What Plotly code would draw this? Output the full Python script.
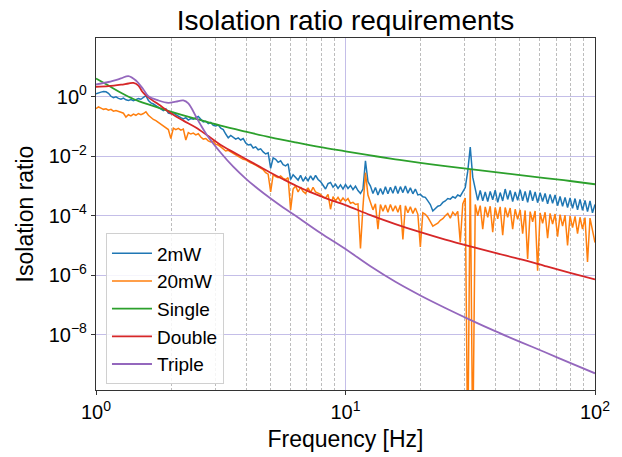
import numpy as np
import plotly.graph_objects as go

# ---- measured spectra: log10(isolation ratio) on a log-frequency grid (1..100 Hz, 0.01 decade steps)
freq_log_step = 0.01
blue_2mW_log = [
0.10,0.14,0.16,0.18,0.17,0.12,0.02,-0.03,0.00,-0.05,
-0.08,-0.04,-0.10,-0.12,-0.09,-0.13,-0.10,-0.06,-0.08,-0.02,
0.04,-0.12,-0.20,-0.24,-0.30,-0.36,-0.42,-0.46,-0.40,-0.55,
-0.57,-0.53,-0.60,-0.66,-0.70,-0.74,-0.70,-0.78,-0.73,-0.75,
-0.70,-0.66,-0.75,-0.84,-0.82,-0.90,-0.86,-0.96,-0.98,-0.95,
-1.05,-1.10,-1.25,-1.38,-1.30,-1.36,-1.42,-1.38,-1.45,-1.40,
-1.55,-1.62,-1.60,-1.72,-1.68,-1.78,-1.75,-1.85,-1.92,-1.88,
-2.40,-2.05,-2.10,-2.20,-2.15,-2.28,-2.32,-2.25,-2.78,-2.62,
-2.70,-2.80,-2.64,-2.84,-2.70,-2.82,-2.66,-2.80,-2.64,-2.78,
-2.85,-2.98,-3.10,-2.92,-2.88,-3.04,-2.94,-3.08,-2.96,-3.10,
-2.95,-3.08,-2.98,-3.12,-3.00,-3.15,-3.25,-3.10,-2.15,-2.85,
-3.00,-3.25,-3.05,-3.30,-3.08,-3.28,-3.02,-3.26,-3.04,-3.24,
-3.00,-3.25,-3.02,-3.22,-3.00,-3.24,-3.06,-3.26,-3.10,-3.30,
-3.28,-3.36,-3.38,-3.50,-3.62,-3.84,-3.75,-3.68,-3.65,-3.55,
-3.50,-3.42,-3.44,-3.36,-3.40,-3.30,-3.34,-3.20,-3.05,-2.50,
-1.69,-2.70,-3.12,-3.48,-3.15,-3.50,-3.20,-3.52,-3.18,-3.46,
-3.14,-3.55,-3.22,-3.50,-3.10,-3.45,-3.15,-3.52,-3.20,-3.48,
-3.12,-3.50,-3.18,-3.55,-3.15,-3.50,-3.20,-3.56,-3.22,-3.52,
-3.25,-3.60,-3.28,-3.58,-3.30,-3.66,-3.35,-3.68,-3.38,-3.72,
-3.40,-3.75,-3.42,-3.80,-3.45,-3.82,-3.48,-3.86,-3.50,-3.90,
-3.62]
orange_20mW_log = [
-0.40,-0.34,-0.38,-0.42,-0.40,-0.45,-0.42,-0.48,-0.46,-0.50,
-0.52,-0.55,-0.68,-0.60,-0.64,-0.58,-0.62,-0.56,-0.60,-0.56,
-0.50,-0.62,-0.70,-0.76,-0.80,-0.86,-0.92,-0.98,-1.02,-1.10,
-1.40,-1.05,-1.10,-1.06,-1.12,-1.08,-1.45,-1.20,-1.25,-1.22,
-1.28,-1.24,-1.35,-1.42,-1.40,-1.48,-1.52,-1.50,-1.60,-1.62,
-1.68,-1.76,-1.82,-1.80,-1.86,-1.92,-1.95,-2.00,-2.05,-2.10,
-2.12,-2.18,-2.22,-2.25,-2.30,-2.36,-2.42,-2.45,-2.55,-2.60,
-3.20,-2.62,-2.68,-2.72,-2.66,-2.74,-2.78,-2.72,-3.80,-3.10,
-3.00,-3.20,-3.04,-3.18,-3.25,-3.06,-3.22,-3.04,-3.20,-3.25,
-3.28,-3.38,-3.40,-3.28,-3.78,-3.36,-3.50,-3.38,-3.52,-3.40,
-3.50,-3.42,-3.58,-3.55,-3.62,-3.60,-5.10,-3.70,-2.55,-3.30,
-3.55,-3.80,-3.60,-4.45,-3.62,-3.85,-3.64,-3.88,-3.62,-3.85,
-3.66,-3.88,-3.64,-4.80,-3.66,-3.90,-3.70,-3.92,-3.74,-3.95,
-5.05,-3.90,-3.95,-4.05,-4.20,-4.35,-4.30,-4.25,-4.15,-4.10,
-4.00,-3.92,-4.08,-3.88,-3.98,-3.85,-4.90,-3.60,-3.40,-12.0,
-2.43,-12.0,-3.62,-4.00,-3.66,-4.45,-3.70,-4.05,-3.68,-4.55,
-3.72,-4.10,-3.70,-4.65,-3.72,-4.05,-3.74,-4.45,-3.78,-4.12,
-3.80,-4.60,-3.82,-5.45,-3.86,-4.20,-3.84,-5.85,-3.90,-4.25,
-3.88,-4.75,-3.92,-4.28,-3.94,-4.70,-3.96,-4.35,-3.98,-5.00,
-4.00,-4.40,-4.02,-4.60,-4.05,-4.45,-4.06,-5.55,-4.08,-4.50,
-4.90]

# ---- requirement curves: (log10 frequency, log10 ratio)
single_xlog = [0, 0.05, 0.1, 0.15, 0.2, 0.267, 0.33, 0.4, 0.5, 0.6, 0.7, 0.8, 0.9, 1.0,
               1.1, 1.2, 1.3, 1.4, 1.5, 1.6, 1.7, 1.8, 1.9, 2.0]
single_log = [0.62, 0.38, 0.14, -0.07, -0.23, -0.41, -0.57, -0.74, -0.97, -1.17, -1.36, -1.53,
              -1.69, -1.83, -1.97, -2.10, -2.22, -2.33, -2.43, -2.53, -2.63, -2.73, -2.83, -2.94]
double_xlog = [0, 0.05, 0.1, 0.13, 0.15, 0.17, 0.185, 0.2, 0.225, 0.25, 0.3, 0.35, 0.4, 0.45, 0.5,
               0.55, 0.6, 0.65, 0.7, 0.75, 0.8, 0.85, 0.9, 0.95, 1.0, 1.1, 1.2, 1.3, 1.4,
               1.5, 1.6, 1.7, 1.8, 1.9, 2.0]
double_log = [0.34, 0.36, 0.41, 0.45, 0.47, 0.38, 0.18, 0.05, -0.11, -0.25, -0.55, -0.80, -1.03,
              -1.32, -1.62, -1.86, -2.09, -2.32, -2.55, -2.77, -2.98, -3.17, -3.34, -3.50,
              -3.64, -3.98, -4.28, -4.55, -4.80, -5.03, -5.25, -5.46, -5.69, -5.92, -6.14]
triple_xlog = [0, 0.05, 0.1, 0.13, 0.16, 0.19, 0.21, 0.25, 0.29, 0.32, 0.35, 0.37, 0.4, 0.42,
               0.45, 0.5, 0.55, 0.6, 0.65, 0.7, 0.75, 0.8, 0.9, 1.0, 1.1, 1.2, 1.3, 1.4, 1.5,
               1.6, 1.7, 1.8, 1.9, 2.0]
triple_log = [0.42, 0.50, 0.62, 0.70, 0.55, 0.25, 0.02, -0.12, -0.20, -0.16, -0.12, -0.22,
              -0.65, -0.95, -1.35, -1.88, -2.35, -2.75, -3.10, -3.42, -3.72, -4.00, -4.58,
              -5.12, -5.70, -6.22, -6.68, -7.10, -7.50, -7.88, -8.24, -8.59, -8.95, -9.30]

x_tickvals = [1, 10, 100]
x_ticktext = ['10<sup>0</sup>', '10<sup>1</sup>', '10<sup>2</sup>']
x_minor = [2, 3, 4, 5, 6, 7, 8, 9, 20, 30, 40, 50, 60, 70, 80, 90]
y_tickvals = [1e-8, 1e-6, 1e-4, 1e-2, 1]
y_ticktext = ['10<sup>−8</sup>', '10<sup>−6</sup>', '10<sup>−4</sup>', '10<sup>−2</sup>', '10<sup>0</sup>']

freq = 10 ** (np.arange(len(blue_2mW_log)) * freq_log_step)

colors = ['#1f77b4', '#ff7f0e', '#2ca02c', '#d62728', '#9467bd']
fig = go.Figure()
fig.add_trace(go.Scatter(x=freq, y=10 ** np.array(blue_2mW_log), name='2mW', mode='lines',
                         line=dict(color=colors[0], width=1.5)))
fig.add_trace(go.Scatter(x=freq, y=10 ** np.array(orange_20mW_log), name='20mW', mode='lines',
                         line=dict(color=colors[1], width=1.5)))
fig.add_trace(go.Scatter(x=10 ** np.array(single_xlog), y=10 ** np.array(single_log), name='Single',
                         mode='lines', line=dict(color=colors[2], width=1.8, shape='spline')))
fig.add_trace(go.Scatter(x=10 ** np.array(double_xlog), y=10 ** np.array(double_log), name='Double',
                         mode='lines', line=dict(color=colors[3], width=1.8, shape='spline')))
fig.add_trace(go.Scatter(x=10 ** np.array(triple_xlog), y=10 ** np.array(triple_log), name='Triple',
                         mode='lines', line=dict(color=colors[4], width=1.8, shape='spline')))

grid_major = '#c4bee8'
fig.update_layout(
    width=622, height=457,
    margin=dict(l=96, r=27, t=38, b=67, autoexpand=False),
    paper_bgcolor='white', plot_bgcolor='white',
    font=dict(family='Liberation Sans, Arial, sans-serif', color='black'),
    title=dict(text='Isolation ratio requirements', font=dict(size=28, color='black'),
               x=0.5, xref='paper', xanchor='center', y=0.955, yref='container', yanchor='middle'),
    xaxis=dict(type='log', range=[0, 2], tickmode='array', tickvals=x_tickvals, ticktext=x_ticktext,
               tickfont=dict(size=20), showgrid=True, gridcolor=grid_major, gridwidth=1,
               showline=True, linecolor='#333', linewidth=1.2, mirror=True, automargin=False,
               ticks='outside', ticklen=4, tickcolor='#333', zeroline=False,
               title=dict(text='Frequency [Hz]', font=dict(size=23), standoff=8),
               minor=dict(tickmode='array', tickvals=x_minor, showgrid=True, gridcolor='#bdbdbd',
                          griddash='3px,2px', gridwidth=0.8, ticks='')),
    yaxis=dict(type='log', range=[-9.86, 1.98], tickmode='array', tickvals=y_tickvals, ticktext=y_ticktext,
               tickfont=dict(size=20), showgrid=True, gridcolor=grid_major, gridwidth=1,
               showline=True, linecolor='#333', linewidth=1.2, mirror=True, automargin=False,
               ticks='outside', ticklen=4, tickcolor='#333', zeroline=False,
               title=dict(text='Isolation ratio', font=dict(size=23), standoff=8)),
    legend=dict(x=0.02, y=0.445, xanchor='left', yanchor='top', font=dict(size=19),
                bgcolor='rgba(255,255,255,0.85)', bordercolor='#d0d0d0', borderwidth=1,
                tracegroupgap=0, itemwidth=40),
    showlegend=True,
)

fig.write_html('out.html', config={'displayModeBar': False},
               post_script="document.body.style.margin='0';document.body.style.padding='0';")
